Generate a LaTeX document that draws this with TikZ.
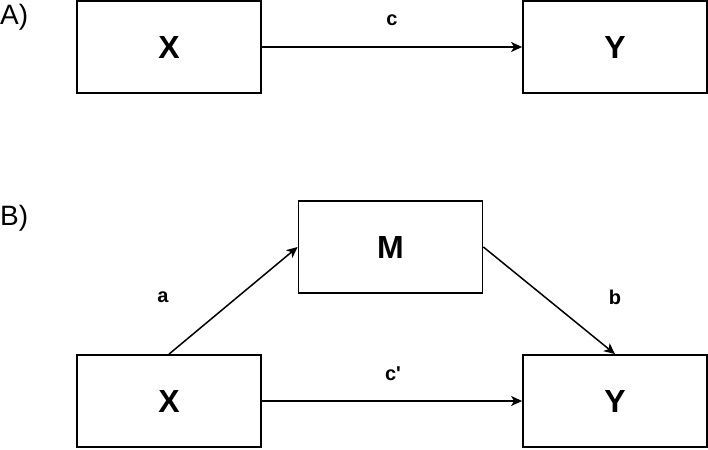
\documentclass[tikz,border=0pt]{standalone}
\usepackage{fontspec}
\setmainfont{Liberation Sans}
\newfontfamily\lblfont{Liberation Sans}
\usetikzlibrary{arrows.meta}
\begin{document}
\begin{tikzpicture}[x=1pt,y=-1pt,
  box/.style={draw, line width=1.8pt, minimum width=184pt, minimum height=92pt, inner sep=0pt, font=\fontsize{32}{34}\selectfont\bfseries},
  lbl/.style={font=\lblfont\fontsize{20}{23}\selectfont\bfseries, inner sep=0pt},
  tag/.style={font=\fontsize{28}{30}\selectfont, inner sep=0pt, anchor=west},
  arr/.style={line width=1.5pt, -{Stealth[length=11pt,width=10pt,inset=3pt]}}]
\useasboundingbox (0,0) rectangle (708,449);
\node[box] (xa) at (169,47) {X};
\node[box] (ya) at (615,47) {Y};
\node[box] (m) at (390.5,247) {M};
\node[box] (xb) at (169,401) {X};
\node[box] (yb) at (615,401) {Y};
\node[tag] (ta) at (0,17) {A)};
\node[tag] (tb) at (0,218) {B)};
\draw[arr] (xa) -- (ya);
\draw[arr] (xb.north) -- (m.west);
\draw[arr] (m.east) -- (yb.north);
\draw[arr] (xb) -- (yb);
\node[lbl] (lc) at (392,20) {c};
\node[lbl] (la) at (163,297) {a};
\node[lbl] (lb) at (615,297) {b};
\node[lbl] (lcp) at (393,374) {c'};
\end{tikzpicture}
\end{document}
